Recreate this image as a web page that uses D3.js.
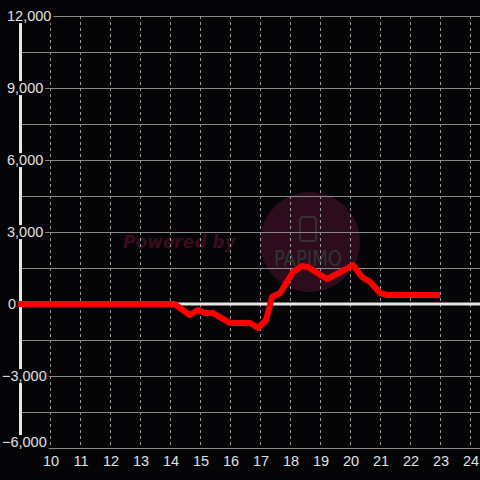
<!DOCTYPE html>
<html><head><meta charset="utf-8">
<script src="https://cdn.jsdelivr.net/npm/d3@7"></script>
<style>html,body{margin:0;padding:0;background:#050407;}svg{display:block;}</style>
</head><body>
<script>
const hours  = [8.9, 14.15, 14.65, 14.93, 15.17, 15.43, 16.0, 16.67, 16.93, 17.2, 17.4, 17.67, 18.1, 18.4, 18.6, 19.23, 19.67, 20.1, 20.4, 20.67, 21.0, 21.23, 23.0];
const values = [0, 0, -460, -250, -380, -380, -790, -790, -1000, -670, 290, 460, 1330, 1580, 1540, 1040, 1330, 1620, 1125, 920, 460, 375, 375];
const xTicks = [10,11,12,13,14,15,16,17,18,19,20,21,22,23,24];
const yTicks = [-6000,-3000,0,3000,6000,9000,12000];
const yGrid  = [-6000,-4500,-3000,-1500,0,1500,3000,4500,6000,7500,9000,10500,12000];

const W=480,H=480;
const x=d3.scaleLinear().domain([9,25]).range([20,500]);
const y=d3.scaleLinear().domain([-6000,12000]).range([448,16]);
const svg=d3.select("body").append("svg").attr("width",W).attr("height",H);
svg.append("rect").attr("width",W).attr("height",H).attr("fill","#050407");

// watermark
svg.append("text").attr("x",123).attr("y",248).attr("font-family","DejaVu Sans").attr("font-weight","bold")
  .attr("font-style","italic").attr("font-size",17).attr("fill","#3a0d1e").text("Powered by");
svg.append("circle").attr("cx",310).attr("cy",242).attr("r",50).attr("fill","#2c0c1d");
svg.append("rect").attr("x",300).attr("y",217).attr("width",16).attr("height",24).attr("rx",3)
  .attr("fill","none").attr("stroke","#3a3a3a").attr("stroke-width",1.5);
svg.append("text").attr("x",308).attr("y",266).attr("text-anchor","middle").attr("font-family","DejaVu Sans Condensed, DejaVu Sans")
  .attr("font-size",21).attr("fill","#333").attr("textLength",68).attr("lengthAdjust","spacingAndGlyphs").text("PAPIMO");

// vertical dashed grid
svg.append("g").selectAll("line").data(xTicks).join("line")
  .attr("x1",d=>x(d)+0.5).attr("x2",d=>x(d)+0.5).attr("y1",y(12000)).attr("y2",y(-6000))
  .attr("stroke","#9a9a9a").attr("stroke-width",1).attr("stroke-dasharray","3,3");
// horizontal grid
svg.append("g").selectAll("line").data(yGrid.filter(d=>d!==0)).join("line")
  .attr("x1",20).attr("x2",W).attr("y1",d=>y(d)+0.5).attr("y2",d=>y(d)+0.5)
  .attr("stroke","#8a8a8a").attr("stroke-width",1);
// zero line
svg.append("line").attr("x1",20).attr("x2",W).attr("y1",y(0)).attr("y2",y(0))
  .attr("stroke","#e6e6e6").attr("stroke-width",3);
// y axis line
svg.append("line").attr("x1",20.5).attr("x2",20.5).attr("y1",y(12000)).attr("y2",y(-6000))
  .attr("stroke","#e6e6e6").attr("stroke-width",3);

// data line
const line=d3.line().x((d,i)=>x(hours[i])).y(d=>y(d)).curve(d3.curveLinear);
svg.append("path").datum(values).attr("d",line).attr("fill","none").attr("stroke","#ff0000")
  .attr("stroke-width",6).attr("stroke-linejoin","round").attr("stroke-linecap","butt");

// y labels with background
const fmt=d3.format(",");
const yl=svg.append("g");
yTicks.forEach(t=>{
  const ty = t===-6000 ? y(t)-6 : y(t);
  const g=yl.append("g");
  const txt=g.append("text").attr("x",t<0?2:(t===0?8:7)).attr("y",ty).attr("dy","0.35em")
    .attr("font-family","Liberation Sans, Arial, sans-serif").attr("font-size",14.5).attr("fill","#e0e0e0").text(fmt(t));
  const bb=txt.node().getBBox();
  g.insert("rect","text").attr("x",bb.x-1).attr("y",bb.y+1).attr("width",bb.width+3).attr("height",bb.height-2).attr("fill","#050407");
});

// x labels
svg.append("g").selectAll("text").data(xTicks).join("text")
  .attr("x",d=>x(d)+1).attr("y",461).attr("dy","0.35em").attr("text-anchor","middle")
  .attr("font-family","Liberation Sans, Arial, sans-serif").attr("font-size",14.5).attr("fill","#e0e0e0").text(d=>d);
</script>
</body></html>
